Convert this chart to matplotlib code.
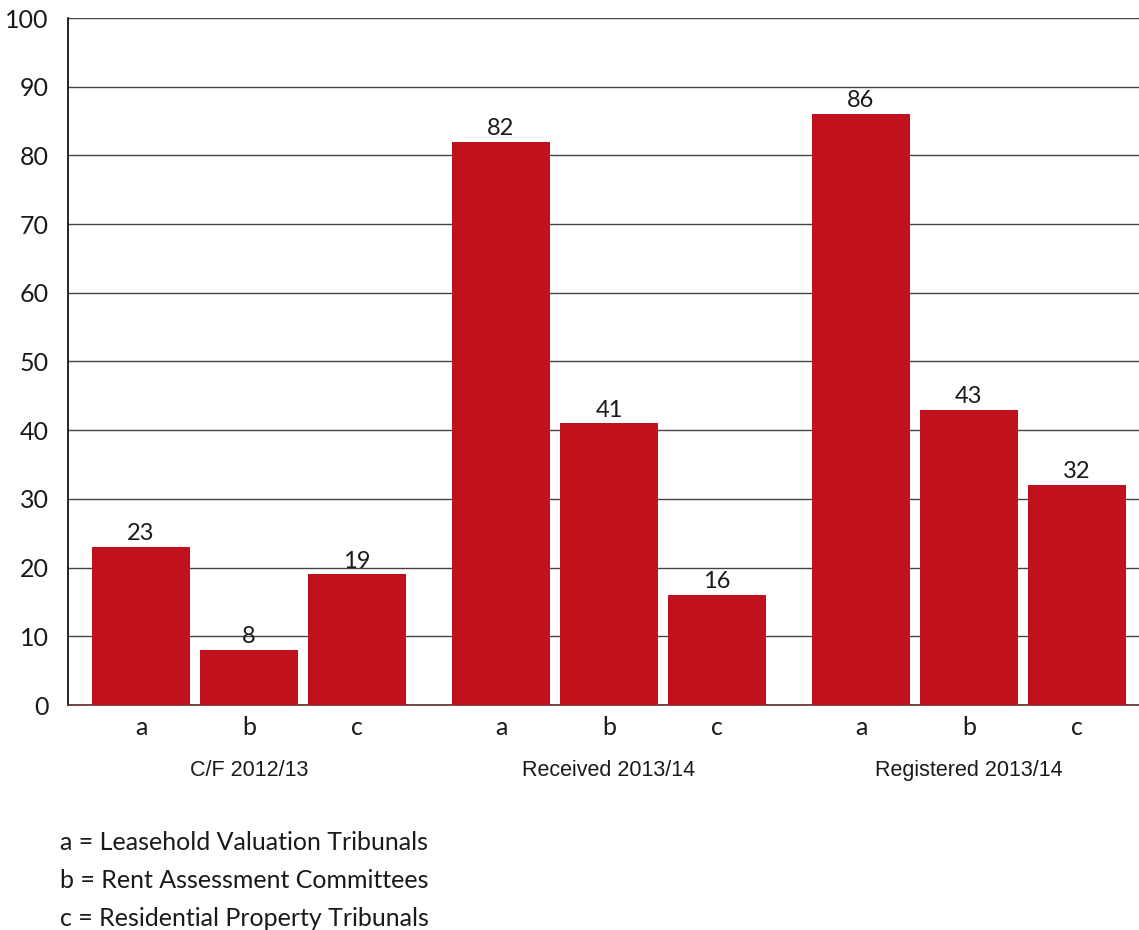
import matplotlib.pyplot as plt
import numpy as np

groups = ["C/F 2012/13", "Received 2013/14", "Registered 2013/14"]
subcats = ["a", "b", "c"]
values = [
    [23, 8, 19],
    [82, 41, 16],
    [86, 43, 32],
]
legend_lines = [
    "a = Leasehold Valuation Tribunals",
    "b = Rent Assessment Committees",
    "c = Residential Property Tribunals",
]

bar_color = "#c1111c"
text_color = "#1a1a1a"
main_font = ["Lato", "DejaVu Sans"]
narrow_font = ["Liberation Sans", "DejaVu Sans"]

fig = plt.figure(figsize=(11.39, 9.30), dpi=100)
ax = fig.add_axes([68 / 1139, 225 / 930, 1 - 68 / 1139, 687 / 930])

group_step = 360 / 108
positions = []
for g, vals in enumerate(values):
    for i, v in enumerate(vals):
        x = g * group_step + i
        positions.append(x)
        ax.bar(x, v, width=98 / 108, color=bar_color, zorder=3)
        ax.text(x, v + 0.4, str(v), ha="center", va="bottom", fontsize=17,
                family=main_font, color=text_color)

ax.set_xlim(-73 / 108, positions[-1] + 62 / 108)
ax.set_ylim(0, 100)
ax.set_yticks(np.arange(0, 101, 10))
ax.set_yticklabels([str(t) for t in range(0, 101, 10)], family=main_font,
                   fontsize=18, color=text_color)
ax.set_xticks(positions)
ax.set_xticklabels(subcats * len(groups), family=main_font,
                   fontsize=18, color=text_color)
ax.tick_params(axis="both", length=0)
ax.tick_params(axis="y", pad=14)
ax.tick_params(axis="x", pad=8)

ax.yaxis.grid(True, color="#444444", linewidth=1.0, zorder=0)
for s in ["top", "right"]:
    ax.spines[s].set_visible(False)
ax.spines["left"].set_color("black")
ax.spines["left"].set_linewidth(1.2)
ax.spines["bottom"].set_color("#5a2a2a")
ax.spines["bottom"].set_linewidth(1.2)

for g, name in enumerate(groups):
    xc = g * group_step + 1
    ax.text(xc, -9.5, name, ha="center", va="center", fontsize=15.5,
            family=narrow_font, color=text_color)

for k, line in enumerate(legend_lines):
    fig.text(60 / 1139, 1 - (842 + 38 * k) / 930, line, ha="left", va="center",
             fontsize=18, family=main_font, color=text_color)

fig.savefig("out.png", dpi=100)
